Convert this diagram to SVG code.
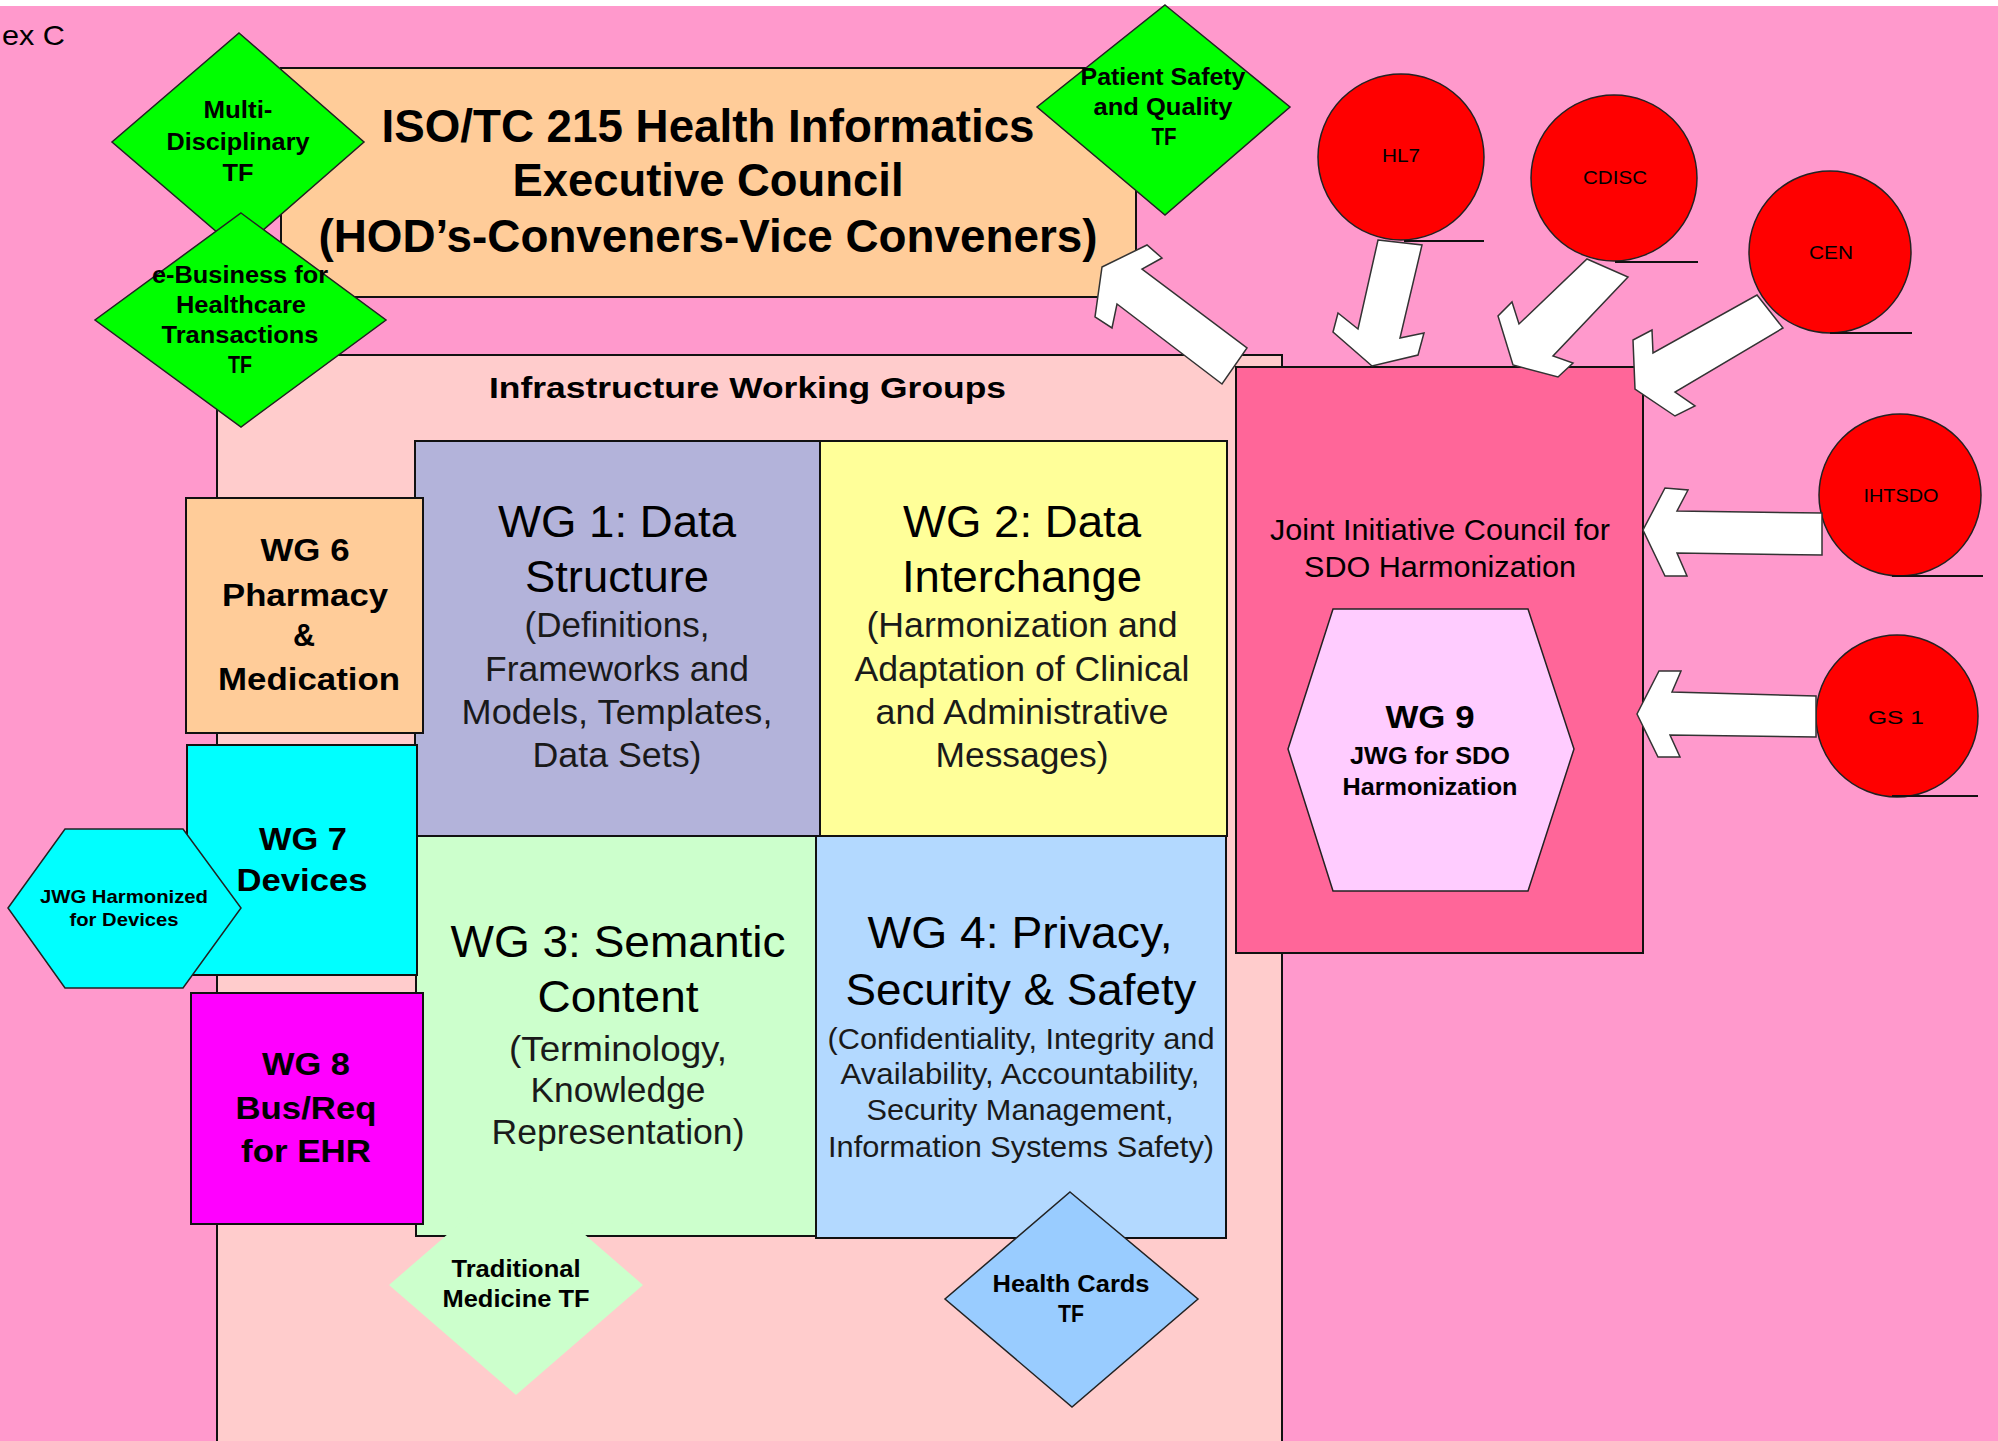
<svg xmlns="http://www.w3.org/2000/svg" width="1998" height="1441" viewBox="0 0 1998 1441">
<style>
text{font-family:"Liberation Sans",Arial,sans-serif;fill:#000}
.b{font-weight:bold}
.box{stroke:#111;stroke-width:2}
.dia{stroke:#222;stroke-width:1.5}
.arr{fill:#fff;stroke:#333;stroke-width:1.5;stroke-linejoin:miter}
.circ{fill:#f00;stroke:#222;stroke-width:1.5}
.ul{stroke:#111;stroke-width:2}
.sub{fill:#1a1a1a}
</style>
<rect x="0" y="0" width="1998" height="1441" fill="#ffffff"/>
<rect x="0" y="6" width="1998" height="1435" fill="#FF99CC"/>
<text x="2" y="45" font-size="28" textLength="63" lengthAdjust="spacingAndGlyphs">ex C</text>

<g id="exec-council">
<rect class="box" x="281" y="68" width="855" height="229" fill="#FFCC99"/>
<text class="b" x="708" y="142" font-size="46" text-anchor="middle" textLength="653" lengthAdjust="spacingAndGlyphs">ISO/TC 215 Health Informatics</text>
<text class="b" x="708" y="196" font-size="46" text-anchor="middle" textLength="391" lengthAdjust="spacingAndGlyphs">Executive Council</text>
<text class="b" x="708" y="252" font-size="46" text-anchor="middle" textLength="779" lengthAdjust="spacingAndGlyphs">(HOD’s-Conveners-Vice Conveners)</text>
</g>

<g id="infrastructure">
<rect class="box" x="217" y="355" width="1065" height="1100" fill="#FFCCCC"/>
<text class="b" x="489" y="398" font-size="30" textLength="517" lengthAdjust="spacingAndGlyphs">Infrastructure Working Groups</text>
</g>

<g id="wg1">
<rect class="box" x="415" y="441" width="405" height="395" fill="#B3B3DA"/>
<text x="617" y="537" font-size="45" text-anchor="middle" textLength="238" lengthAdjust="spacingAndGlyphs">WG 1: Data</text>
<text x="617" y="592" font-size="45" text-anchor="middle" textLength="184" lengthAdjust="spacingAndGlyphs">Structure</text>
<text class="sub" x="617" y="637" font-size="35" text-anchor="middle" textLength="185" lengthAdjust="spacingAndGlyphs">(Definitions,</text>
<text class="sub" x="617" y="681" font-size="35" text-anchor="middle" textLength="264" lengthAdjust="spacingAndGlyphs">Frameworks and</text>
<text class="sub" x="617" y="724" font-size="35" text-anchor="middle" textLength="311" lengthAdjust="spacingAndGlyphs">Models, Templates,</text>
<text class="sub" x="617" y="767" font-size="35" text-anchor="middle" textLength="169" lengthAdjust="spacingAndGlyphs">Data Sets)</text>
</g>

<g id="wg2">
<rect class="box" x="820" y="441" width="407" height="395" fill="#FFFF99"/>
<text x="1022" y="537" font-size="45" text-anchor="middle" textLength="238" lengthAdjust="spacingAndGlyphs">WG 2: Data</text>
<text x="1022" y="592" font-size="45" text-anchor="middle" textLength="240" lengthAdjust="spacingAndGlyphs">Interchange</text>
<text class="sub" x="1022" y="637" font-size="35" text-anchor="middle" textLength="311" lengthAdjust="spacingAndGlyphs">(Harmonization and</text>
<text class="sub" x="1022" y="681" font-size="35" text-anchor="middle" textLength="335" lengthAdjust="spacingAndGlyphs">Adaptation of Clinical</text>
<text class="sub" x="1022" y="724" font-size="35" text-anchor="middle" textLength="293" lengthAdjust="spacingAndGlyphs">and Administrative</text>
<text class="sub" x="1022" y="767" font-size="35" text-anchor="middle" textLength="173" lengthAdjust="spacingAndGlyphs">Messages)</text>
</g>

<g id="wg3">
<rect class="box" x="416" y="836" width="400" height="400" fill="#CCFFCC"/>
<text x="618" y="957" font-size="45" text-anchor="middle" textLength="335" lengthAdjust="spacingAndGlyphs">WG 3: Semantic</text>
<text x="618" y="1012" font-size="45" text-anchor="middle" textLength="161" lengthAdjust="spacingAndGlyphs">Content</text>
<text class="sub" x="618" y="1061" font-size="35" text-anchor="middle" textLength="218" lengthAdjust="spacingAndGlyphs">(Terminology,</text>
<text class="sub" x="618" y="1102" font-size="35" text-anchor="middle" textLength="175" lengthAdjust="spacingAndGlyphs">Knowledge</text>
<text class="sub" x="618" y="1144" font-size="35" text-anchor="middle" textLength="253" lengthAdjust="spacingAndGlyphs">Representation)</text>
</g>

<g id="wg4">
<rect class="box" x="816" y="836" width="410" height="402" fill="#B3D9FF"/>
<text x="1020" y="948" font-size="45" text-anchor="middle" textLength="305" lengthAdjust="spacingAndGlyphs">WG 4: Privacy,</text>
<text x="1021" y="1005" font-size="45" text-anchor="middle" textLength="351" lengthAdjust="spacingAndGlyphs">Security &amp; Safety</text>
<text class="sub" x="1021" y="1049" font-size="30" text-anchor="middle" textLength="387" lengthAdjust="spacingAndGlyphs">(Confidentiality, Integrity and</text>
<text class="sub" x="1020" y="1084" font-size="30" text-anchor="middle" textLength="359" lengthAdjust="spacingAndGlyphs">Availability, Accountability,</text>
<text class="sub" x="1020" y="1120" font-size="30" text-anchor="middle" textLength="307" lengthAdjust="spacingAndGlyphs">Security Management,</text>
<text class="sub" x="1021" y="1157" font-size="30" text-anchor="middle" textLength="386" lengthAdjust="spacingAndGlyphs">Information Systems Safety)</text>
</g>

<g id="wg6">
<rect class="box" x="186" y="498" width="237" height="235" fill="#FFCC99"/>
<text class="b" x="305" y="561" font-size="32" text-anchor="middle" textLength="89" lengthAdjust="spacingAndGlyphs">WG 6</text>
<text class="b" x="305" y="606" font-size="32" text-anchor="middle" textLength="166" lengthAdjust="spacingAndGlyphs">Pharmacy</text>
<text class="b" x="304" y="646" font-size="32" text-anchor="middle" textLength="22" lengthAdjust="spacingAndGlyphs">&amp;</text>
<text class="b" x="309" y="690" font-size="32" text-anchor="middle" textLength="182" lengthAdjust="spacingAndGlyphs">Medication</text>
</g>

<g id="wg7">
<rect class="box" x="187" y="745" width="230" height="230" fill="#00FFFF"/>
<text class="b" x="303" y="850" font-size="32" text-anchor="middle" textLength="88" lengthAdjust="spacingAndGlyphs">WG 7</text>
<text class="b" x="302" y="891" font-size="32" text-anchor="middle" textLength="131" lengthAdjust="spacingAndGlyphs">Devices</text>
</g>

<g id="wg8">
<rect class="box" x="191" y="993" width="232" height="231" fill="#FF00FF"/>
<text class="b" x="306" y="1075" font-size="32" text-anchor="middle" textLength="88" lengthAdjust="spacingAndGlyphs">WG 8</text>
<text class="b" x="306" y="1119" font-size="32" text-anchor="middle" textLength="141" lengthAdjust="spacingAndGlyphs">Bus/Req</text>
<text class="b" x="306" y="1162" font-size="32" text-anchor="middle" textLength="130" lengthAdjust="spacingAndGlyphs">for EHR</text>
</g>

<g id="jwg-devices">
<polygon class="dia" points="8,908 65,829 183,829 241,908 183,988 65,988" fill="#00FFFF"/>
<text class="b" x="124" y="903" font-size="19" text-anchor="middle" textLength="168" lengthAdjust="spacingAndGlyphs">JWG Harmonized</text>
<text class="b" x="124" y="926" font-size="19" text-anchor="middle" textLength="109" lengthAdjust="spacingAndGlyphs">for Devices</text>
</g>

<g id="traditional-medicine">
<polygon points="516,1175 643,1285 516,1395 389,1285" fill="#CCFFCC"/>
<text class="b" x="516" y="1277" font-size="23" text-anchor="middle" textLength="129" lengthAdjust="spacingAndGlyphs">Traditional</text>
<text class="b" x="516" y="1307" font-size="23" text-anchor="middle" textLength="147" lengthAdjust="spacingAndGlyphs">Medicine TF</text>
</g>

<g id="health-cards">
<polygon class="dia" points="1070,1192 1198,1299 1072,1407 945,1299" fill="#99CCFF"/>
<text class="b" x="1071" y="1292" font-size="23" text-anchor="middle" textLength="157" lengthAdjust="spacingAndGlyphs">Health Cards</text>
<text class="b" x="1071" y="1322" font-size="23" text-anchor="middle" textLength="26" lengthAdjust="spacingAndGlyphs">TF</text>
</g>

<g id="jic">
<rect class="box" x="1236" y="367" width="407" height="586" fill="#FF6699"/>
<text x="1440" y="540" font-size="29" text-anchor="middle" textLength="340" lengthAdjust="spacingAndGlyphs">Joint Initiative Council for</text>
<text x="1440" y="577" font-size="29" text-anchor="middle" textLength="272" lengthAdjust="spacingAndGlyphs">SDO Harmonization</text>
</g>

<g id="wg9">
<polygon class="dia" points="1333,609 1528,609 1574,749 1528,891 1333,891 1288,749" fill="#FFCCFF"/>
<text class="b" x="1430" y="728" font-size="32" text-anchor="middle" textLength="89" lengthAdjust="spacingAndGlyphs">WG 9</text>
<text class="b" x="1430" y="764" font-size="23" text-anchor="middle" textLength="160" lengthAdjust="spacingAndGlyphs">JWG for SDO</text>
<text class="b" x="1430" y="795" font-size="23" text-anchor="middle" textLength="175" lengthAdjust="spacingAndGlyphs">Harmonization</text>
</g>

<g id="multi-disciplinary">
<polygon class="dia" points="239,33 364,142 239,251 112,142" fill="#00FF00"/>
<text class="b" x="238" y="118" font-size="23" text-anchor="middle" textLength="69" lengthAdjust="spacingAndGlyphs">Multi-</text>
<text class="b" x="238" y="150" font-size="23" text-anchor="middle" textLength="143" lengthAdjust="spacingAndGlyphs">Disciplinary</text>
<text class="b" x="238" y="181" font-size="23" text-anchor="middle" textLength="31" lengthAdjust="spacingAndGlyphs">TF</text>
</g>

<g id="e-business">
<polygon class="dia" points="241,213 386,320 241,427 95,320" fill="#00FF00"/>
<text class="b" x="240" y="283" font-size="23" text-anchor="middle" textLength="176" lengthAdjust="spacingAndGlyphs">e-Business for</text>
<text class="b" x="241" y="313" font-size="23" text-anchor="middle" textLength="130" lengthAdjust="spacingAndGlyphs">Healthcare</text>
<text class="b" x="240" y="343" font-size="23" text-anchor="middle" textLength="157" lengthAdjust="spacingAndGlyphs">Transactions</text>
<text class="b" x="240" y="373" font-size="23" text-anchor="middle" textLength="24" lengthAdjust="spacingAndGlyphs">TF</text>
</g>

<g id="patient-safety">
<polygon class="dia" points="1165,5 1290,107 1165,215 1037,107" fill="#00FF00"/>
<text class="b" x="1163" y="85" font-size="23" text-anchor="middle" textLength="165" lengthAdjust="spacingAndGlyphs">Patient Safety</text>
<text class="b" x="1163" y="115" font-size="23" text-anchor="middle" textLength="139" lengthAdjust="spacingAndGlyphs">and Quality</text>
<text class="b" x="1164" y="145" font-size="23" text-anchor="middle" textLength="25" lengthAdjust="spacingAndGlyphs">TF</text>
</g>

<g id="hl7">
<circle class="circ" cx="1401" cy="157" r="83"/>
<line class="ul" x1="1404" y1="241" x2="1484" y2="241"/>
<text x="1401" y="162" font-size="19" text-anchor="middle" textLength="38" lengthAdjust="spacingAndGlyphs">HL7</text>
</g>
<g id="cdisc">
<circle class="circ" cx="1614" cy="178" r="83"/>
<line class="ul" x1="1615" y1="262" x2="1698" y2="262"/>
<text x="1615" y="184" font-size="19" text-anchor="middle" textLength="64" lengthAdjust="spacingAndGlyphs">CDISC</text>
</g>
<g id="cen">
<circle class="circ" cx="1830" cy="252" r="81"/>
<line class="ul" x1="1830" y1="333" x2="1912" y2="333"/>
<text x="1831" y="259" font-size="19" text-anchor="middle" textLength="44" lengthAdjust="spacingAndGlyphs">CEN</text>
</g>
<g id="ihtsdo">
<circle class="circ" cx="1900" cy="495" r="81"/>
<line class="ul" x1="1892" y1="576" x2="1983" y2="576"/>
<text x="1901" y="502" font-size="19" text-anchor="middle" textLength="75" lengthAdjust="spacingAndGlyphs">IHTSDO</text>
</g>
<g id="gs1">
<circle class="circ" cx="1897" cy="716" r="81"/>
<line class="ul" x1="1892" y1="796" x2="1978" y2="796"/>
<text x="1896" y="724" font-size="19" text-anchor="middle" textLength="56" lengthAdjust="spacingAndGlyphs">GS 1</text>
</g>

<g id="connectors">
<polygon class="arr" points="1102,267 1147,245 1162,258 1142,269 1247,348 1222,384 1117,304 1112,328 1095,317"/>
<polygon class="arr" points="1378,240 1422,245 1400,338 1424,333 1418,355 1372,366 1333,332 1338,313 1358,329"/>
<polygon class="arr" points="1587,259 1628,277 1553,356 1573,363 1558,377 1513,365 1498,316 1512,302 1519,324"/>
<polygon class="arr" points="1757,295 1783,328 1675,392 1695,406 1675,416 1635,389 1633,340 1652,330 1653,353"/>
<polygon class="arr" points="1822,513 1822,555 1677,553 1687,576 1665,576 1643,530 1665,488 1688,490 1677,511"/>
<polygon class="arr" points="1816,696 1816,737 1670,735 1680,757 1658,757 1637,714 1659,671 1681,671 1672,692"/>
</g>
</svg>
